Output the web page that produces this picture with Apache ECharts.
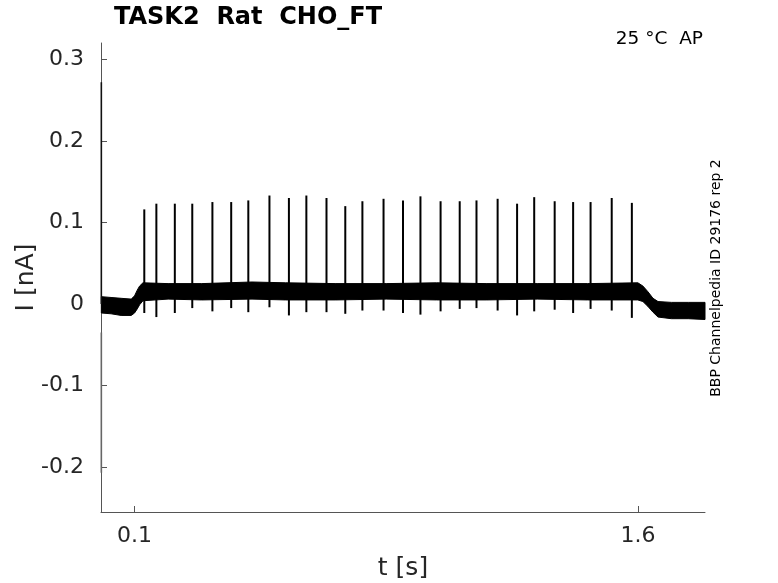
<!DOCTYPE html>
<html>
<head>
<meta charset="utf-8">
<title>TASK2 Rat CHO_FT</title>
<script src="https://cdn.jsdelivr.net/npm/echarts@6/dist/echarts.min.js"></script>
<style>
html,body{margin:0;padding:0;background:#fff;}
#tubiao{width:778px;height:583px;}
</style>
</head>
<body>
<div id="tubiao"></div>
<script>
// tick labels
var xTicks = [0.1, 1.6];
var yTicks = [-0.2, -0.1, 0, 0.1, 0.2, 0.3];

// noise band of the trace (upper / lower edge, nA)
var bandT  = [0.001, 0.030, 0.060, 0.090, 0.100, 0.108, 0.115, 0.125, 0.200, 0.300, 0.450, 0.550, 0.700, 0.850, 1.000, 1.150, 1.300, 1.450, 1.600, 1.615, 1.630, 1.645, 1.660, 1.700, 1.750, 1.800];
var bandHi = [0.009, 0.008, 0.007, 0.006, 0.010, 0.017, 0.022, 0.026, 0.025, 0.025, 0.027, 0.026, 0.025, 0.025, 0.026, 0.025, 0.025, 0.025, 0.026, 0.022, 0.015, 0.007, 0.003, 0.002, 0.002, 0.002];
var bandLo = [-0.011, -0.012, -0.014, -0.014, -0.011, -0.006, -0.001, 0.004, 0.006, 0.005, 0.006, 0.005, 0.005, 0.006, 0.005, 0.005, 0.006, 0.005, 0.005, 0.003, -0.003, -0.010, -0.016, -0.018, -0.018, -0.019];

// action potentials: time, peak, trough after the peak
var spikeT    = [0.129, 0.165, 0.220, 0.272, 0.332, 0.388, 0.439, 0.502, 0.560, 0.612, 0.672, 0.728, 0.779, 0.842, 0.900, 0.952, 1.012, 1.069, 1.119, 1.182, 1.240, 1.291, 1.352, 1.407, 1.459, 1.522, 1.582];
var spikePeak = [0.116, 0.123, 0.123, 0.123, 0.125, 0.125, 0.127, 0.133, 0.130, 0.133, 0.130, 0.120, 0.126, 0.129, 0.127, 0.132, 0.126, 0.126, 0.127, 0.129, 0.123, 0.131, 0.126, 0.125, 0.125, 0.130, 0.124];
var spikeLow  = [-0.011, -0.016, -0.011, -0.005, -0.009, -0.005, -0.010, -0.004, -0.014, -0.010, -0.010, -0.012, -0.008, -0.008, -0.011, -0.013, -0.009, -0.006, -0.005, -0.008, -0.014, -0.009, -0.007, -0.011, -0.006, -0.008, -0.017];

// capacitive transient at the very start (dark upper part, faint lower part)
var transT = [0.001, 0.001, 0.001, 0.001];
var transV = [0.272, 0.000, -0.035, -0.207];

var fontName = "DejaVu Sans";
var axisGrey = "#555555";
var labelGrey = "#262626";

var bandData = [];
for (var i = 0; i < bandT.length; i++) {
	bandData.push([bandT[i], bandHi[i], bandLo[i]]);
}
var spikeData = [];
for (var j = 0; j < spikeT.length; j++) {
	spikeData.push([spikeT[j], spikePeak[j], spikeLow[j]]);
}

function fmt(v) {
	return String(Math.round(v * 10) / 10);
}

var myChart = echarts.init(document.getElementById('tubiao'), null, {renderer: 'canvas'});
var option = {
	backgroundColor: '#ffffff',
	animation: false,
	grid: {left: 101, right: 73, top: 43, bottom: 71, containLabel: false, outerBoundsMode: 'none'},
	xAxis: {
		type: 'value',
		min: 0,
		max: 1.8,
		name: 't [s]',
		nameLocation: 'middle',
		nameGap: 44,
		nameMoveOverlap: false,
		nameTextStyle: {fontFamily: fontName, fontSize: 25, color: labelGrey},
		axisLine: {show: true, onZero: false, lineStyle: {color: axisGrey, width: 1}},
		axisTick: {show: true, inside: true, length: 6, customValues: xTicks, lineStyle: {color: axisGrey}},
		axisLabel: {customValues: xTicks, formatter: fmt, fontFamily: fontName, fontSize: 22, color: labelGrey, margin: 13},
		splitLine: {show: false}
	},
	yAxis: {
		type: 'value',
		min: -0.255,
		max: 0.32,
		name: 'I [nA]',
		nameLocation: 'middle',
		nameGap: 62,
		nameMoveOverlap: false,
		nameRotate: 90,
		nameTextStyle: {fontFamily: fontName, fontSize: 25, color: labelGrey},
		axisLine: {show: true, onZero: false, lineStyle: {color: axisGrey, width: 1}},
		axisTick: {show: true, inside: true, length: 6, customValues: yTicks, lineStyle: {color: axisGrey}},
		axisLabel: {customValues: yTicks, formatter: fmt, fontFamily: fontName, fontSize: 22, color: labelGrey, margin: 17},
		splitLine: {show: false}
	},
	series: [
		{
			name: 'band',
			type: 'custom',
			data: [[0, 0]],
			silent: true,
			renderItem: function(params, api) {
				var pts = [];
				for (var a = 0; a < bandData.length; a++) {
					pts.push(api.coord([bandData[a][0], bandData[a][1]]));
				}
				for (var b = bandData.length - 1; b >= 0; b--) {
					pts.push(api.coord([bandData[b][0], bandData[b][2]]));
				}
				return {type: 'polygon', shape: {points: pts}, style: {fill: '#000000', stroke: '#000000', lineWidth: 1}};
			}
		},
		{
			name: 'spikes',
			type: 'custom',
			data: spikeData,
			encode: {x: 0, y: [1, 2]},
			silent: true,
			renderItem: function(params, api) {
				var top = api.coord([api.value(0), api.value(1)]);
				var bot = api.coord([api.value(0), api.value(2)]);
				return {type: 'line', shape: {x1: top[0], y1: top[1], x2: bot[0], y2: bot[1]}, style: {stroke: '#000000', lineWidth: 2}};
			}
		},
		{
			name: 'transient',
			type: 'line',
			data: [[transT[0], transV[0]], [transT[1], transV[1]]],
			symbol: 'none',
			lineStyle: {color: '#111111', width: 1.6},
			silent: true
		},
		{
			name: 'transient2',
			type: 'line',
			data: [[transT[2], transV[2]], [transT[3], transV[3]]],
			symbol: 'none',
			lineStyle: {color: '#666666', width: 1.6},
			silent: true
		}
	],
	graphic: [
		{type: 'text', left: 114, top: 6, style: {text: 'TASK2  Rat  CHO_FT', fontFamily: fontName, fontWeight: 'bold', fontSize: 24, fill: '#000000'}},
		{type: 'text', right: 75, top: 30, style: {text: '25 °C  AP', fontFamily: fontName, fontSize: 18.5, fill: '#000000'}},
		{type: 'text', x: 716, y: 278, rotation: Math.PI / 2, style: {text: 'BBP Channelpedia ID 29176 rep 2', fontFamily: fontName, fontSize: 14, fill: '#000000', align: 'center', verticalAlign: 'middle'}}
	]
};
myChart.setOption(option, true);
</script>
</body>
</html>
